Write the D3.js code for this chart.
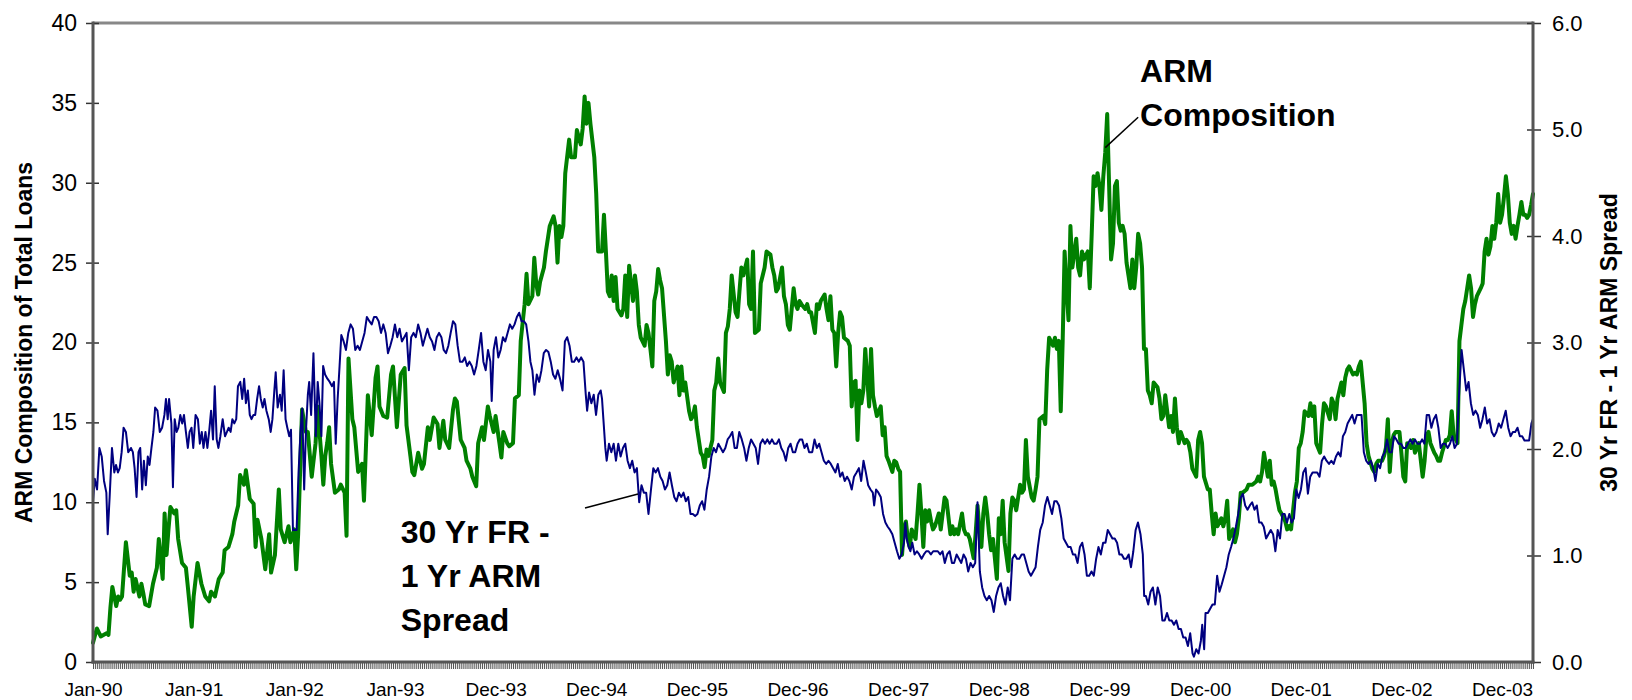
<!DOCTYPE html>
<html><head><meta charset="utf-8">
<script src="https://cdn.jsdelivr.net/npm/d3@7"></script>
<style>
html,body{margin:0;padding:0;background:#fff;}
svg{display:block;font-family:"Liberation Sans",Arial,sans-serif;}
</style>
</head><body>
<svg id="chart" width="1632" height="700"></svg>
<script>
// ---- data ----
const xTickLabels = ["Jan-90","Jan-91","Jan-92","Jan-93","Dec-93","Dec-94","Dec-95","Dec-96","Dec-97","Dec-98","Dec-99","Dec-00","Dec-01","Dec-02","Dec-03"];
const leftTicks = [0,5,10,15,20,25,30,35,40];
const rightTicks = [0,1,2,3,4,5,6];
const leftTitle = "ARM Composition of Total Loans";
const rightTitle = "30 Yr FR - 1 Yr ARM Spread";
const armLabel = ["ARM","Composition"];
const spreadLabel = ["30 Yr FR -","1 Yr ARM","Spread"];

// [week index from Jan-90, ARM share of total loans (%)]
const armComposition = [
[0,1.2],[2,2.1],[4,1.6],[7,1.8],[8,1.7],[9,3.4],[10,4.7],[12,3.5],[13,4.1],[14,3.9],[15,4.1],[17,7.5],[19,5.4],[20,5.6],[21,4.4],[22,5.2],[24,4.1],[25,4.9],[26,4.3],[27,3.6],[29,3.5],[31,4.9],[32,5.4],[33,5.9],[34,7.7],[36,5.2],[37,9.3],[38,6.7],[39,8.3],[40,9.7],[42,9.3],[43,9.5],[44,7.7],[46,6.2],[48,5.9],[49,4.7],[51,2.2],[52,4.1],[54,6.2],[56,4.9],[58,4.1],[60,3.8],[61,4.4],[63,4.1],[65,5.2],[67,5.6],[68,7.0],[70,7.2],[72,8.0],[73,8.8],[75,9.8],[76,11.7],[78,11.1],[79,12.0],[81,10.2],[83,9.9],[84,7.2],[85,8.9],[87,7.7],[89,5.8],[91,8.0],[92,5.6],[94,6.7],[96,10.8],[97,8.3],[99,7.5],[101,8.5],[102,7.5],[104,8.3],[105,5.8],[106,8.0],
[108,15.8],[110,14.4],[111,14.4],[113,11.6],[115,13.7],[116,16.0],[118,12.9],[119,11.1],[120,12.9],[121,13.7],[122,14.7],[123,12.4],[125,10.6],[127,10.8],[128,11.1],[130,10.6],[131,7.9],[132,19.0],[134,15.2],[135,14.7],[137,11.9],[139,12.4],[140,10.1],[142,16.7],[144,14.2],[146,17.8],[147,18.5],[148,16.0],[150,15.4],[152,15.3],[154,18.0],[155,18.5],[157,14.7],[159,18.0],[161,18.4],[162,14.8],[164,12.9],[165,11.9],[166,11.7],[168,13.1],[170,12.1],[171,12.4],[173,14.7],[174,13.9],[176,15.3],[178,14.9],[179,13.4],[181,15.1],[182,13.9],[184,13.4],[186,15.8],[187,16.5],[188,16.3],[190,13.9],[192,13.4],[193,12.6],[195,12.1],[196,11.6],[198,11.0],[199,13.7],[201,14.7],[202,13.9],[204,16.0],[205,15.4],[207,14.4],[208,15.4],[210,13.7],[211,12.8],[212,14.4],[214,13.7],[215,13.5],[217,13.7],[218,16.5],[220,16.7],
[221,20.1],[223,22.4],[224,24.3],[225,22.4],[227,22.9],[228,25.3],[229,23.7],[230,23.0],[231,23.8],[233,24.7],[234,25.7],[236,27.3],[238,27.9],[239,27.3],[240,25.0],[241,27.3],[242,26.6],[243,27.3],[244,30.6],[246,32.7],[247,31.6],[249,31.6],[250,33.3],[252,32.4],[253,33.4],[254,35.4],[255,33.7],[256,35.0],[257,33.7],[259,31.6],[260,29.3],[261,25.7],[263,25.7],[264,28.0],[265,25.7],[266,23.2],[267,22.9],[268,24.2],[269,22.6],[270,24.1],[271,22.1],[273,21.7],[274,22.1],[275,24.2],[276,21.6],[277,24.8],[279,22.6],[280,24.2],[281,23.2],[282,21.1],[283,20.3],[285,19.8],[286,21.1],[287,20.6],[288,19.6],[289,18.5],[290,22.6],[291,23.2],[292,24.6],[293,23.9],[294,23.4],[296,20.1],[297,18.0],[298,19.2],[299,18.8],[300,17.5],[301,18.0],[302,18.5],[303,16.7],[304,18.5],[305,17.0],[306,17.5],[308,15.7],[309,15.2],[310,15.4],[311,16.0],[312,14.7],[314,13.1],[315,12.9],[316,12.2],[317,13.3],[318,12.9],[320,13.9],
[321,17.0],[322,17.5],[323,19.0],[324,17.5],[326,16.9],[327,20.6],[328,21.0],[329,22.1],[330,24.2],[332,21.9],[333,21.6],[334,23.2],[335,24.7],[336,24.2],[338,25.2],[339,22.4],[340,22.1],[341,25.7],[342,20.6],[344,20.8],[345,23.7],[346,24.2],[347,24.7],[348,25.7],[350,25.5],[351,24.7],[352,24.2],[353,23.2],[354,23.4],[356,24.7],[357,22.9],[358,22.4],[359,21.1],[360,20.8],[362,23.4],[363,22.4],[364,22.1],[365,22.6],[366,22.4],[368,22.1],[369,22.4],[370,21.9],[371,21.9],[373,20.6],[374,22.4],[375,22.1],[376,22.6],[378,23.0],[379,22.1],[380,21.4],[381,22.9],[382,20.8],[383,20.6],[384,18.5],[385,20.6],[386,21.9],[387,21.6],[388,20.3],[390,20.1],[391,19.8],[392,16.0],[393,17.5],[394,17.6],[395,13.9],[396,17.0],[397,16.2],[398,17.0],[399,19.6],[401,16.0],[402,19.6],[403,16.7],[404,16.0],[405,15.4],[407,16.0],[408,14.2],[409,14.7],[410,12.9],[411,12.6],[413,11.9],[414,12.6],[415,12.5],[416,12.1],[417,11.9],
[418,6.7],[419,8.3],[420,8.8],[421,7.7],[422,7.2],[423,8.3],[425,7.7],[426,9.3],[427,11.1],[428,9.3],[429,7.2],[430,9.5],[431,8.8],[432,9.5],[433,8.8],[434,8.3],[435,8.5],[437,9.3],[438,8.3],[439,9.3],[440,10.3],[441,10.1],[443,8.0],[444,8.5],[445,8.0],[446,8.3],[447,8.0],[449,9.3],[450,8.3],[451,8.0],[452,8.0],[453,7.7],[455,6.5],[456,8.0],[457,9.8],[458,8.3],[459,7.2],[460,9.3],[461,10.3],[462,9.3],[463,8.0],[464,7.0],[465,7.7],[467,5.2],[468,9.0],[469,8.0],[470,10.1],[471,7.5],[473,5.7],[474,9.3],[475,10.3],[476,10.1],[477,9.5],[479,11.1],[480,10.6],[481,10.8],[482,13.9],[483,11.6],[485,10.3],[486,10.1],[487,10.8],[488,11.6],[489,15.2],[491,15.4],[492,14.9],[493,18.3],[494,20.3],[496,19.8],[497,20.3],[498,19.6],[499,20.1],[500,15.7],[501,20.1],[502,25.7],[503,23.4],[504,21.4],[505,27.3],[506,24.7],[508,26.5],[509,24.7],[510,24.2],[511,25.7],[512,25.2],[514,25.7],[515,23.4],[516,26.8],[517,30.4],[518,29.8],[519,30.6],[520,29.8],[521,28.3],[522,30.4],[523,31.9],[524,34.3],[525,29.8],[526,25.2],[527,26.2],[528,29.8],[529,30.1],[530,27.5],[531,27.0],[532,27.3],[533,26.8],[534,25.0],[535,24.2],[536,23.4],[537,25.2],[538,23.4],[539,24.7],[540,26.8],[541,26.2],[542,24.7],
[543,19.6],[544,19.6],[545,17.0],[546,16.7],[547,16.2],[548,17.5],[550,17.2],[551,16.5],[552,15.2],[553,15.4],[554,16.7],[556,14.7],[557,15.4],[558,14.4],[559,16.5],[560,14.7],[561,13.7],[562,14.4],[564,13.7],[565,13.9],[566,13.7],[567,13.1],[568,12.1],[570,11.6],[571,13.9],[572,14.4],[573,13.7],[574,11.6],[576,10.8],[577,10.8],[578,9.3],[579,8.0],[580,9.3],[581,8.5],[583,9.0],[584,8.5],[585,9.0],[586,10.1],[587,7.7],[589,8.3],[590,7.5],[591,8.0],[592,9.0],[593,10.6],[594,10.6],[596,10.8],[597,11.1],[598,11.1],[599,11.1],[601,11.3],[602,11.6],[603,11.3],[604,11.9],[605,13.1],[607,11.6],[608,12.6],[609,11.1],[610,11.3],[611,10.8],[612,10.1],[613,9.5],[614,9.3],[616,8.8],[617,8.3],[618,8.5],[619,8.3],[621,10.6],[622,11.3],[623,13.4],[624,13.7],[625,14.4],[626,15.7],[628,15.4],[629,16.2],[630,15.4],[631,16.0],[632,13.7],[634,13.1],[635,14.9],[636,16.2],[637,16.0],[639,15.2],[640,16.5],[641,16.2],[642,15.2],[643,16.5],[645,17.5],[646,16.7],[647,17.8],[648,18.3],[649,18.5],[651,18.0],[652,18.1],[653,18.0],[654,18.5],[655,18.8],[657,16.2],[658,13.7],[659,12.9],[661,12.1],[662,11.9],[663,12.4],[664,12.6],[666,12.6],[667,12.9],[668,13.4],[669,15.2],[670,11.9],[671,13.7],[672,14.2],[673,14.4],[675,14.4],[676,13.1],[677,11.6],[678,11.3],[679,13.7],[681,13.4],[682,13.9],[683,13.1],[684,13.4],[685,13.7],[687,11.6],[688,12.6],[689,14.2],[690,14.4],[691,13.7],[693,13.1],[694,12.9],[695,12.6],[696,12.6],[697,13.1],[699,13.9],[700,13.9],[701,14.2],[702,15.7],[703,14.2],[705,13.7],
[706,20.1],[707,21.1],[708,22.1],[709,22.6],[710,23.4],[711,24.2],[712,23.4],[713,21.6],[714,22.4],[715,22.9],[717,23.4],[718,23.7],[719,25.7],[720,26.5],[721,25.5],[722,26.0],[723,27.3],[724,26.5],[725,27.5],[726,29.3],[727,27.5],[728,28.0],[729,29.1],[730,30.4],[731,29.3],[732,27.5],[733,26.8],[734,27.3],[735,26.5],[736,27.3],[737,28.0],[738,28.8],[739,28.0],[740,28.0],[741,27.8],[742,28.0],[743,28.6],[744,29.3]
];

// [week index from Jan-90, 30yr fixed minus 1yr ARM spread (pct points)]
const spreadSeries = [
[0,1.51],[0.9,1.72],[2.1,1.62],[3.3,2.01],[4.5,1.93],[5.7,1.70],[6.9,1.59],[7.6,1.20],[8.6,1.55],[9.8,2.01],[11.0,1.78],[11.9,1.85],[12.9,1.78],[13.8,1.82],[14.8,1.97],[15.8,2.20],[17.0,2.16],[18.2,1.97],[19.6,2.01],[20.6,1.97],[21.5,1.82],[22.5,1.55],[23.5,1.97],[24.4,2.01],[25.4,1.62],[26.3,1.89],[27.3,1.66],[28.3,1.93],[29.2,1.85],[30.2,2.01],[31.2,2.16],[32.1,2.39],[33.3,2.36],[34.5,2.16],[35.7,2.20],[36.9,2.32],[37.7,2.47],[38.6,2.28],[39.3,2.47],[40.5,2.24],[41.3,1.64],[42.2,2.28],[43.2,2.16],[44.1,2.20],[45.1,2.32],[46.1,2.24],[47.0,2.32],[48.0,2.16],[49.0,2.01],[49.9,2.16],[50.9,2.20],[51.8,2.01],[53.0,2.32],[54.2,2.28],[55.2,2.05],[56.2,2.16],[57.1,2.01],[58.1,2.16],[59.1,2.01],[60.0,2.16],[61.0,2.36],[62.0,2.09],[62.9,2.59],[63.9,2.09],[64.8,2.01],[65.8,2.12],[67.0,2.28],[68.2,2.12],[69.2,2.16],[70.1,2.20],[71.1,2.16],[72.0,2.28],[73.0,2.24],[74.0,2.28],[74.9,2.59],[76.1,2.63],[77.1,2.47],[78.1,2.66],[79.0,2.43],[80.0,2.55],[81.0,2.32],[81.9,2.28],[82.9,2.32],[83.8,2.32],[84.8,2.47],[85.8,2.59],[86.7,2.47],[87.7,2.39],[88.6,2.47],[89.6,2.36],[90.8,2.28],[91.8,2.16],[92.7,2.28],[93.7,2.55],[94.4,2.72],[95.4,2.39],[96.6,2.51],[97.5,2.36],[98.5,2.74],[99.5,2.28],[100.4,2.20],[101.4,2.12],[102.3,2.18],[103.3,1.24],[104.3,1.24],[105.2,1.24],[106.2,1.78],[107.2,2.16],[108.1,2.38],[109.1,1.62],[110.0,2.16],[111.0,2.51],[111.7,2.63],[112.7,2.32],[113.9,2.90],[115.1,2.12],[116.1,2.63],[117.0,2.43],[118.0,2.12],[118.9,2.78],[119.9,2.70],[121.1,2.66],[122.3,2.63],[123.5,2.59],[124.5,2.63],[125.4,2.05],[126.4,2.47],[127.4,2.78],[128.3,3.07],[129.5,3.01],[130.7,2.93],[131.9,3.09],[133.1,3.17],[134.3,3.13],[135.5,2.93],[136.7,2.97],[137.9,2.93],[139.1,3.01],[140.3,3.09],[141.5,3.24],[142.8,3.20],[144.0,3.17],[145.2,3.24],[146.4,3.24],[147.6,3.20],[148.8,3.09],[150.0,3.17],[151.2,3.09],[152.4,2.90],[153.6,2.97],[154.8,3.05],[156.0,3.17],[157.2,3.05],[158.4,3.13],[159.6,3.01],[160.8,3.05],[162.0,3.09],[163.2,2.74],[164.4,3.05],[165.6,3.09],[166.8,3.05],[168.0,3.17],[169.2,3.09],[170.4,2.97],[171.6,3.05],[172.8,3.13],[174.0,3.05],[175.2,3.01],[176.4,2.93],[177.6,3.05],[178.8,3.09],[180.0,3.05],[181.2,2.93],[182.4,2.90],[183.6,2.97],[184.8,3.09],[186.0,3.20],[187.2,3.17],[188.4,2.97],[189.6,2.82],[190.9,2.82],[192.1,2.86],[193.3,2.78],[194.5,2.82],[195.7,2.78],[196.9,2.70],[198.1,2.78],[199.3,2.93],[200.5,3.09],[201.7,2.82],[202.9,2.74],[204.1,2.93],[205.3,2.82],[206.0,2.45],[207.0,2.93],[208.2,3.05],[209.4,2.86],[210.6,2.93],[211.8,3.05],[213.0,3.01],[214.2,3.09],[215.4,3.17],[216.6,3.13],[217.8,3.17],[219.0,3.24],[220.2,3.28],[221.4,3.20],[222.6,3.20],[223.8,3.17],[225.0,3.01],[226.0,2.82],[227.0,2.74],[228.1,2.51],[229.3,2.70],[230.5,2.63],[231.7,2.74],[232.9,2.90],[234.1,2.93],[235.3,2.91],[236.5,2.82],[237.7,2.70],[238.9,2.66],[240.1,2.74],[241.3,2.66],[242.6,2.55],[243.8,3.01],[245.0,3.05],[246.2,2.97],[247.4,2.82],[248.6,2.82],[249.8,2.86],[251.0,2.82],[252.2,2.86],[253.4,2.82],[254.6,2.51],[255.3,2.36],[256.3,2.53],[257.5,2.43],[258.7,2.51],[259.9,2.32],[261.1,2.51],[262.3,2.55],[263.0,2.47],[263.7,2.28],[264.7,2.01],[265.4,1.89],[266.6,2.05],[267.8,1.97],[269.0,2.05],[270.2,1.89],[271.4,2.05],[272.6,1.93],[273.8,2.01],[275.0,2.05],[276.2,1.89],[277.4,1.82],[278.6,1.89],[279.8,1.78],[281.0,1.82],[282.2,1.50],[283.4,1.66],[284.6,1.59],[285.8,1.59],[287.0,1.39],[288.3,1.62],[289.5,1.82],[290.7,1.78],[291.9,1.82],[293.1,1.74],[294.3,1.70],[295.5,1.62],[296.7,1.66],[297.9,1.78],[299.1,1.66],[300.3,1.55],[301.5,1.51],[302.7,1.59],[303.9,1.55],[305.1,1.59],[306.3,1.51],[307.5,1.55],[308.7,1.39],[309.9,1.39],[311.1,1.37],[312.3,1.39],[313.5,1.47],[314.7,1.51],[315.9,1.43],[317.1,1.62],[318.3,1.74],[319.5,1.93],[320.7,2.01],[321.9,1.97],[323.1,2.05],[324.3,2.01],[325.5,1.97],[326.7,2.01],[327.9,2.09],[329.1,2.12],[330.3,2.16],[331.5,2.01],[332.7,2.01],[333.9,2.16],[335.2,2.09],[336.4,2.01],[337.6,1.89],[338.8,2.01],[340.0,2.09],[341.2,2.05],[342.4,2.01],[343.6,1.86],[344.8,2.05],[346.0,2.09],[347.2,2.05],[348.4,2.09],[349.6,2.05],[350.8,2.09],[352.0,2.05],[353.2,2.05],[354.4,2.09],[355.6,2.01],[356.8,1.97],[358.0,1.89],[359.2,2.01],[360.4,2.05],[361.6,1.97],[362.8,1.97],[364.0,2.05],[365.2,2.09],[366.4,2.09],[367.6,2.01],[368.8,2.05],[370.0,1.97],
[371.6,1.97],[372.8,2.09],[374.0,2.01],[375.2,2.05],[376.4,1.97],[377.6,1.89],[378.8,1.86],[380.0,1.89],[381.2,1.86],[382.4,1.82],[383.6,1.78],[384.8,1.86],[386.0,1.74],[387.2,1.78],[388.4,1.70],[389.6,1.74],[390.8,1.70],[392.0,1.62],[393.2,1.74],[394.5,1.78],[395.7,1.82],[396.9,1.70],[398.1,1.89],[399.3,1.78],[400.5,1.66],[401.7,1.62],[402.9,1.59],[403.6,1.47],[404.6,1.62],[405.8,1.59],[407.0,1.55],[408.2,1.39],[409.4,1.31],[410.6,1.27],[411.8,1.24],[413.0,1.20],[414.2,1.12],[415.4,1.04],[416.6,0.97],[417.8,1.01],[419.0,1.12],[419.7,1.31],[420.4,1.16],[421.4,1.08],[422.3,1.04],[423.3,1.12],[424.5,1.01],[425.7,1.04],[426.9,1.01],[428.1,0.97],[429.3,1.01],[430.5,1.04],[431.7,1.04],[432.9,1.01],[434.1,1.04],[435.3,1.04],[436.5,1.04],[437.7,1.01],[438.9,1.04],[440.1,0.93],[441.3,1.01],[442.6,1.04],[443.8,0.93],[444.9,0.93],[446.2,1.01],[447.4,0.97],[448.6,0.93],[449.8,1.01],[451.0,0.97],[452.2,0.85],[453.4,0.93],[454.6,0.89],[455.8,0.93],[457.0,1.50],[458.2,0.85],[459.4,0.70],[460.6,0.62],[461.8,0.58],[463.0,0.62],[464.2,0.58],[465.4,0.47],[466.6,0.62],[467.8,0.70],[469.0,0.74],[470.2,0.62],[471.4,0.54],[472.6,0.70],[473.8,0.58],[475.0,0.97],[476.2,1.01],[477.4,0.97],[478.6,0.97],[479.8,1.01],[481.0,1.01],[482.2,0.93],[483.4,0.85],[484.6,0.81],[485.8,0.85],[487.0,0.89],[488.2,1.08],[489.4,1.24],[490.7,1.31],[491.9,1.47],[493.1,1.55],[494.3,1.47],[495.5,1.39],[496.7,1.51],[497.9,1.51],[499.1,1.47],[500.3,1.35],[501.5,1.16],[502.7,1.12],[503.9,1.08],[505.1,1.08],[506.3,1.01],[507.5,1.01],[508.7,0.93],[509.9,1.08],[511.1,1.12],[512.3,1.01],[513.5,0.81],[514.7,0.81],[515.9,0.85],[517.1,0.81],[518.3,0.97],[519.5,1.08],[520.7,1.01],[521.9,1.12],[523.1,1.12],[524.3,1.24],[525.5,1.20],[526.7,1.16],[527.9,1.16],[529.1,1.12],[530.3,1.01],[531.5,1.01],[532.7,0.97],[533.9,0.97],[535.1,1.01],[536.3,0.89],[537.5,1.04],[538.7,1.24],[539.9,1.31],[541.2,1.20],[542.4,1.01],[543.1,0.62],[544.0,0.62],[545.2,0.54],[546.4,0.66],[547.6,0.70],[548.9,0.54],[550.1,0.70],[551.3,0.62],[552.5,0.39],[553.7,0.39],[554.9,0.46],[556.1,0.39],[557.3,0.39],[558.5,0.35],[559.7,0.39],[560.9,0.31],[562.1,0.31],[563.3,0.23],[564.5,0.23],[565.7,0.15],[566.9,0.27],[568.1,0.08],[568.8,0.05],[570.0,0.12],[571.2,0.08],[572.4,0.20],[573.1,0.35],[574.1,0.12],[574.8,0.46],[576.0,0.46],[577.2,0.50],[578.4,0.54],[579.6,0.54],[580.8,0.81],[582.0,0.66],[583.2,0.73],[584.4,0.81],[585.6,0.89],[586.8,1.01],[588.0,1.08],[589.2,1.16],[590.5,1.27],[591.7,1.39],[592.9,1.54],[594.1,1.58],[595.3,1.47],[596.5,1.43],[597.7,1.47],[598.9,1.50],[600.1,1.43],[601.3,1.47],[602.5,1.31],[603.7,1.31],[604.9,1.27],[606.1,1.16],[607.3,1.20],[608.5,1.24],[609.7,1.20],[610.9,1.04],[612.1,1.24],[613.3,1.16],[614.5,1.39],[615.7,1.39],[616.9,1.31],[618.1,1.39],[619.3,1.31],[620.5,1.35],[621.7,1.62],[622.9,1.54],[624.1,1.62],[625.3,1.78],[626.5,1.82],[627.7,1.58],[628.9,1.74],[630.1,1.78],[631.3,1.78],[632.5,1.78],[633.7,1.74],[634.9,1.89],[636.1,1.93],[637.3,1.89],[638.6,1.86],[639.8,1.89],[641.0,1.86],[642.2,1.93],[643.4,1.97],[644.6,1.93],[645.8,2.12],[647.0,2.16],[648.2,2.24],[649.4,2.28],[650.6,2.32],[651.8,2.24],[653.0,2.32],[654.2,2.32],[655.4,2.32],[656.6,1.97],[657.8,1.89],[659.0,1.86],[660.2,1.89],[661.4,1.82],[662.6,1.70],[663.8,1.86],[665.0,1.82],[666.2,1.93],[667.4,1.97],[668.6,2.09],[669.8,1.97],[671.0,1.97],[672.2,2.12],[673.4,2.09],[674.6,2.05],[675.8,2.05],[677.0,2.01],[678.2,2.01],[679.4,2.05],[680.6,2.09],[681.8,2.05],[683.0,2.09],[684.3,2.05],[685.5,2.05],[686.7,2.09],[687.9,2.05],[689.1,2.32],[690.3,2.32],[691.5,2.20],[692.7,2.28],[693.9,2.32],[695.1,2.20],[696.3,2.01],[697.5,2.05],[698.7,2.05],[699.9,2.01],[701.1,2.05],[702.3,2.12],[703.5,2.01],[704.7,2.05],[705.9,2.55],[707.1,2.93],[708.3,2.74],[709.5,2.55],[710.7,2.63],[711.9,2.43],[713.1,2.32],[714.3,2.36],[715.5,2.32],[716.7,2.20],[717.9,2.28],[719.1,2.39],[720.3,2.24],[721.5,2.28],[722.7,2.16],[723.9,2.12],[725.1,2.16],[726.3,2.24],[727.5,2.20],[728.7,2.28],[729.9,2.36],[731.2,2.20],[732.4,2.12],[733.6,2.16],[734.8,2.16],[736.0,2.20],[737.2,2.12],[738.4,2.12],[739.6,2.08],[740.8,2.08],[742.0,2.08],[743.2,2.24],[744.4,2.28]
];

// annotation anchors in data units: [week, left-axis value]
const armLabelAt = [541, 36.3];
const armLeader = [[523, 32.2], [540, 34.1]];
const spreadLabelAt = [159, 7.45];
const spreadLeader = [[254.2, 9.64], [281.6, 10.52]];

// ---- layout ----
const svg = d3.select("#chart");
const plot = {left:93, right:1533, top:23, bottom:662};
const weeksPerLabel = 52, lastWeek = 744;
const FONT = '"Liberation Sans", Arial, sans-serif';

const x = d3.scaleLinear().domain([0, lastWeek]).range([plot.left, plot.right]);
const yL = d3.scaleLinear().domain([0, 40]).range([plot.bottom, plot.top]);
const yR = d3.scaleLinear().domain([0, 6]).range([plot.bottom, plot.top]);

// series
svg.append("path").datum(armComposition)
  .attr("fill","none").attr("stroke","#008000").attr("stroke-width",4)
  .attr("stroke-linejoin","round").attr("stroke-linecap","round")
  .attr("d", d3.line().x(d=>x(d[0])).y(d=>yL(d[1])));

svg.append("path").datum(spreadSeries.map(d=>[Math.min(d[0],lastWeek), d[1]]))
  .attr("fill","none").attr("stroke","#000080").attr("stroke-width",2)
  .attr("stroke-linejoin","round")
  .attr("d", d3.line().x(d=>x(d[0])).y(d=>yR(d[1])));

// plot frame (top border)
svg.append("line").attr("x1",plot.left).attr("x2",plot.right).attr("y1",plot.top).attr("y2",plot.top)
  .attr("stroke","#888").attr("stroke-width",3);

// bottom axis with a tick for every week
const gx = svg.append("g").attr("transform",`translate(0,${plot.bottom})`)
  .call(d3.axisBottom(x).tickValues(d3.range(0, lastWeek+1))
    .tickSizeInner(7).tickSizeOuter(0).tickPadding(14)
    .tickFormat(d => d % weeksPerLabel === 0 ? (xTickLabels[d/weeksPerLabel] || "") : ""));
gx.select(".domain").remove();
gx.selectAll(".tick line").attr("stroke","#555").attr("stroke-width",1);
gx.selectAll(".tick text").attr("font-family",FONT).attr("font-size",19).attr("fill","#000");

// left axis
const gl = svg.append("g").attr("transform",`translate(${plot.left},0)`)
  .call(d3.axisLeft(yL).tickValues(leftTicks).tickSizeInner(7).tickSizeOuter(0).tickPadding(9));
gl.select(".domain").remove();
gl.selectAll(".tick line").attr("x1",6).attr("stroke","#333").attr("stroke-width",1.5);
gl.selectAll(".tick text").attr("font-family",FONT).attr("font-size",23).attr("fill","#000");

// right axis
const gr = svg.append("g").attr("transform",`translate(${plot.right},0)`)
  .call(d3.axisRight(yR).tickValues(rightTicks).tickFormat(d3.format(".1f"))
    .tickSizeInner(8).tickSizeOuter(0).tickPadding(11));
gr.select(".domain").remove();
gr.selectAll(".tick line").attr("x1",-6).attr("stroke","#333").attr("stroke-width",1.5);
gr.selectAll(".tick text").attr("font-family",FONT).attr("font-size",22).attr("fill","#000");

// axis lines
const axisLines = [
  [plot.left, plot.top, plot.left, plot.bottom],
  [plot.right, plot.top, plot.right, plot.bottom],
  [plot.left, plot.bottom, plot.right, plot.bottom]
];
svg.selectAll("line.axisline").data(axisLines).enter().append("line").attr("class","axisline")
  .attr("x1",d=>d[0]).attr("y1",d=>d[1]).attr("x2",d=>d[2]).attr("y2",d=>d[3])
  .attr("stroke","#555").attr("stroke-width",3).attr("stroke-linecap","square");

// axis titles
const midY = (plot.top + plot.bottom)/2;
svg.append("text").attr("transform",`translate(32,${midY}) rotate(-90)`)
  .attr("text-anchor","middle").attr("font-family",FONT).attr("font-weight","bold")
  .attr("font-size",23).text(leftTitle);
svg.append("text").attr("transform",`translate(1617,${midY}) rotate(-90)`)
  .attr("text-anchor","middle").attr("font-family",FONT).attr("font-weight","bold")
  .attr("font-size",23).text(rightTitle);

// annotations
function label(lines, at) {
  const t = svg.append("text").attr("font-family",FONT).attr("font-weight","bold").attr("font-size",32);
  lines.forEach((s,i)=> t.append("tspan").attr("x",x(at[0])).attr("y",yL(at[1]) + i*44).text(s));
}
function leader(seg) {
  svg.append("line").attr("x1",x(seg[0][0])).attr("y1",yL(seg[0][1]))
    .attr("x2",x(seg[1][0])).attr("y2",yL(seg[1][1]))
    .attr("stroke","#000").attr("stroke-width",1.5);
}
label(armLabel, armLabelAt);
leader(armLeader);
label(spreadLabel, spreadLabelAt);
leader(spreadLeader);
</script>
</body></html>
